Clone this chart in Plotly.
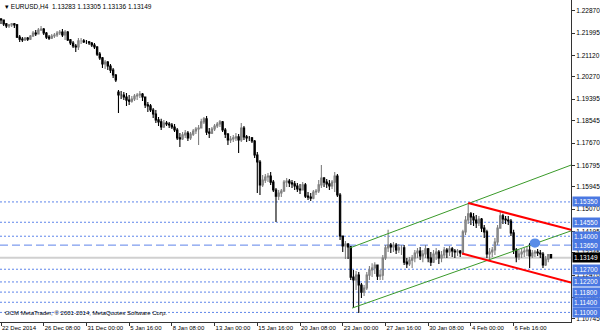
import plotly.graph_objects as go

# ---- data (EURUSD H4) ----
opens = [1.2255,1.2251,1.2236,1.2228,1.2232,1.2236,1.2232,1.2184,1.2176,1.2173,
1.2180,1.2176,1.2188,1.2200,1.2196,1.2212,1.2216,1.2200,1.2184,1.2180,
1.2188,1.2192,1.2200,1.2204,1.2192,1.2204,1.2173,1.2161,1.2149,1.2145,
1.2169,1.2169,1.2165,1.2165,1.2161,1.2153,1.2145,1.2117,1.2102,1.2078,
1.2086,1.2070,1.2054,1.2035,1.1968,1.1956,1.1956,1.1948,1.1936,1.1932,
1.1940,1.1952,1.1956,1.1960,1.1948,1.1917,1.1913,1.1897,1.1881,1.1858,
1.1850,1.1830,1.1846,1.1842,1.1838,1.1830,1.1818,1.1787,1.1783,1.1799,
1.1806,1.1787,1.1802,1.1814,1.1822,1.1826,1.1850,1.1862,1.1810,1.1806,
1.1822,1.1834,1.1842,1.1850,1.1818,1.1802,1.1779,1.1783,1.1787,1.1791,
1.1779,1.1826,1.1791,1.1787,1.1787,1.1775,1.1720,1.1692,1.1602,1.1621,
1.1633,1.1637,1.1613,1.1582,1.1558,1.1570,1.1578,1.1613,1.1617,1.1610,
1.1606,1.1598,1.1586,1.1582,1.1602,1.1558,1.1554,1.1550,1.1574,1.1578,
1.1602,1.1629,1.1613,1.1606,1.1598,1.1613,1.1637,1.1562,1.1401,1.1362,
1.1369,1.1358,1.1239,1.1228,1.1247,1.1208,1.1180,1.1196,1.1247,1.1267,
1.1275,1.1287,1.1243,1.1247,1.1314,1.1354,1.1365,1.1358,1.1365,1.1346,
1.1354,1.1354,1.1298,1.1291,1.1306,1.1314,1.1334,1.1342,1.1322,1.1330,
1.1350,1.1314,1.1298,1.1330,1.1338,1.1314,1.1326,1.1346,1.1338,1.1350,
1.1342,1.1338,1.1342,1.1334,1.1417,1.1464,1.1488,1.1476,1.1464,1.1452,
1.1468,1.1432,1.1417,1.1330,1.1338,1.1346,1.1377,1.1432,1.1480,1.1468,
1.1464,1.1460,1.1413,1.1346,1.1318,1.1330,1.1338,1.1342,1.1346,1.1322,
1.1334,1.1338,1.1334,1.1330,1.1287,1.1310,1.13283]

highs = [1.2259,1.2251,1.2239,1.2236,1.2239,1.2239,1.2236,1.2192,1.2184,1.2184,
1.2184,1.2192,1.2208,1.2212,1.2220,1.2228,1.2220,1.2204,1.2192,1.2196,
1.2200,1.2208,1.2212,1.2216,1.2212,1.2208,1.2176,1.2169,1.2157,1.2180,
1.2180,1.2176,1.2173,1.2169,1.2165,1.2161,1.2149,1.2125,1.2106,1.2094,
1.2090,1.2078,1.2062,1.2039,1.1976,1.1972,1.1968,1.1964,1.1956,1.1952,
1.1960,1.1964,1.1972,1.1964,1.1948,1.1928,1.1921,1.1905,1.1897,1.1869,
1.1862,1.1858,1.1854,1.1850,1.1846,1.1842,1.1826,1.1806,1.1810,1.1818,
1.1814,1.1810,1.1822,1.1830,1.1838,1.1862,1.1869,1.1873,1.1826,1.1830,
1.1842,1.1850,1.1858,1.1854,1.1826,1.1806,1.1795,1.1799,1.1806,1.1802,
1.1846,1.1834,1.1799,1.1795,1.1791,1.1779,1.1732,1.1700,1.1641,1.1645,
1.1649,1.1653,1.1621,1.1590,1.1582,1.1586,1.1621,1.1629,1.1625,1.1621,
1.1617,1.1610,1.1606,1.1613,1.1610,1.1574,1.1570,1.1582,1.1586,1.1621,
1.1680,1.1633,1.1625,1.1621,1.1621,1.1653,1.1645,1.1570,1.1401,1.1381,
1.1373,1.1362,1.1267,1.1263,1.1259,1.1216,1.1208,1.1259,1.1283,1.1294,
1.1298,1.1287,1.1267,1.1326,1.1365,1.1425,1.1373,1.1377,1.1373,1.1369,
1.1365,1.1365,1.1314,1.1318,1.1326,1.1346,1.1354,1.1358,1.1346,1.1365,
1.1354,1.1338,1.1346,1.1354,1.1346,1.1342,1.1358,1.1354,1.1362,1.1358,
1.1350,1.1350,1.1346,1.1425,1.1480,1.1531,1.1495,1.1491,1.1484,1.1480,
1.1472,1.1444,1.1425,1.1354,1.1358,1.1393,1.1444,1.1495,1.1488,1.1480,
1.1480,1.1468,1.1425,1.1354,1.1346,1.1350,1.1354,1.1362,1.1373,1.1346,
1.1346,1.1350,1.1346,1.1338,1.1322,1.1330,1.13305]

lows = [1.2236,1.2228,1.2220,1.2220,1.2224,1.2220,1.2180,1.2165,1.2165,1.2169,
1.2169,1.2173,1.2184,1.2188,1.2196,1.2208,1.2192,1.2176,1.2173,1.2176,
1.2180,1.2184,1.2192,1.2184,1.2173,1.2169,1.2153,1.2141,1.2125,1.2133,
1.2157,1.2161,1.2157,1.2153,1.2145,1.2137,1.2110,1.2094,1.2062,1.2058,
1.2054,1.2043,1.2023,1.2007,1.1885,1.1940,1.1936,1.1913,1.1917,1.1925,
1.1932,1.1936,1.1944,1.1932,1.1905,1.1889,1.1889,1.1865,1.1846,1.1834,
1.1818,1.1826,1.1834,1.1826,1.1822,1.1810,1.1779,1.1751,1.1779,1.1787,
1.1775,1.1779,1.1795,1.1802,1.1759,1.1826,1.1842,1.1799,1.1787,1.1802,
1.1814,1.1826,1.1830,1.1810,1.1787,1.1759,1.1767,1.1771,1.1775,1.1728,
1.1771,1.1779,1.1771,1.1775,1.1767,1.1708,1.1570,1.1562,1.1594,1.1610,
1.1613,1.1602,1.1574,1.1456,1.1543,1.1554,1.1574,1.1594,1.1594,1.1590,
1.1582,1.1574,1.1566,1.1582,1.1550,1.1543,1.1539,1.1546,1.1562,1.1570,
1.1590,1.1594,1.1590,1.1582,1.1586,1.1574,1.1554,1.1385,1.1338,1.1310,
1.1310,1.1228,1.1117,1.1188,1.1098,1.1157,1.1165,1.1188,1.1228,1.1239,
1.1251,1.1228,1.1228,1.1228,1.1306,1.1338,1.1334,1.1338,1.1330,1.1334,
1.1326,1.1287,1.1275,1.1283,1.1275,1.1298,1.1314,1.1306,1.1298,1.1314,
1.1298,1.1283,1.1295,1.1306,1.1291,1.1298,1.1314,1.1314,1.1322,1.1318,
1.1314,1.1322,1.1318,1.1326,1.1405,1.1448,1.1444,1.1440,1.1432,1.1440,
1.1417,1.1393,1.1314,1.1306,1.1318,1.1326,1.1365,1.1432,1.1448,1.1448,
1.1444,1.1401,1.1330,1.1298,1.1306,1.1314,1.1318,1.1322,1.1275,1.1314,
1.1318,1.1322,1.1314,1.1275,1.1283,1.1298,1.13136]

closes = [1.2251,1.2236,1.2228,1.2232,1.2236,1.2232,1.2184,1.2176,1.2173,1.2180,
1.2176,1.2188,1.2200,1.2196,1.2212,1.2216,1.2200,1.2184,1.2180,1.2188,
1.2192,1.2200,1.2204,1.2192,1.2204,1.2173,1.2161,1.2149,1.2145,1.2169,
1.2169,1.2165,1.2165,1.2161,1.2153,1.2145,1.2117,1.2102,1.2078,1.2086,
1.2070,1.2054,1.2035,1.2015,1.1956,1.1956,1.1948,1.1936,1.1932,1.1940,
1.1952,1.1956,1.1960,1.1948,1.1917,1.1913,1.1897,1.1881,1.1858,1.1850,
1.1830,1.1846,1.1842,1.1838,1.1830,1.1818,1.1787,1.1783,1.1799,1.1806,
1.1787,1.1802,1.1814,1.1822,1.1826,1.1850,1.1862,1.1810,1.1806,1.1822,
1.1834,1.1842,1.1850,1.1818,1.1802,1.1779,1.1783,1.1787,1.1791,1.1779,
1.1826,1.1791,1.1787,1.1787,1.1775,1.1720,1.1692,1.1602,1.1621,1.1633,
1.1637,1.1613,1.1582,1.1558,1.1570,1.1578,1.1613,1.1617,1.1610,1.1606,
1.1598,1.1586,1.1582,1.1602,1.1558,1.1554,1.1550,1.1574,1.1578,1.1602,
1.1629,1.1613,1.1606,1.1598,1.1613,1.1637,1.1562,1.1401,1.1362,1.1369,
1.1358,1.1239,1.1228,1.1247,1.1208,1.1180,1.1196,1.1247,1.1267,1.1275,
1.1287,1.1243,1.1247,1.1314,1.1354,1.1365,1.1358,1.1365,1.1346,1.1354,
1.1354,1.1298,1.1291,1.1306,1.1314,1.1334,1.1342,1.1322,1.1330,1.1350,
1.1314,1.1298,1.1330,1.1338,1.1314,1.1326,1.1346,1.1338,1.1350,1.1342,
1.1338,1.1342,1.1334,1.1417,1.1464,1.1488,1.1476,1.1464,1.1452,1.1468,
1.1432,1.1417,1.1330,1.1338,1.1346,1.1377,1.1432,1.1480,1.1468,1.1464,
1.1460,1.1413,1.1346,1.1318,1.1330,1.1338,1.1342,1.1346,1.1322,1.1334,
1.1338,1.1334,1.1330,1.1287,1.1310,1.13283,1.13149]

bars = list(range(len(closes)))

tick_bars = [0, 16, 32, 48, 64, 80, 96, 112, 128, 144, 160, 176, 192]
tick_labels = ["22 Dec 2014", "26 Dec 08:00", "31 Dec 00:00", "5 Jan 16:00",
               "8 Jan 08:00", "13 Jan 00:00", "15 Jan 16:00", "20 Jan 08:00",
               "23 Jan 00:00", "27 Jan 16:00", "30 Jan 08:00", "4 Feb 00:00",
               "6 Feb 16:00"]

price_ticks = [1.22870, 1.21995, 1.21120, 1.20270, 1.19395, 1.18545, 1.17670,
               1.16795, 1.15945, 1.15070, 1.14195, 1.13345, 1.12470, 1.11595,
               1.10745]

dotted_levels = [1.15350, 1.14550, 1.14000, 1.12700, 1.12200, 1.11800, 1.11400, 1.11000]
dashed_level = 1.13650

green_upper_bars = [130.7, 213.5]
green_upper_prices = [1.1354, 1.1680]
green_lower_bars = [131.5, 213.5]
green_lower_prices = [1.1117, 1.1421]
red_upper_bars = [175, 213.5]
red_upper_prices = [1.1531, 1.1425]
red_lower_bars = [172.7, 213.5]
red_lower_prices = [1.1332, 1.1218]
marker_bar, marker_price = 200, 1.1373

symbol = "EURUSD,H4"
copyright_text = "GCM MetaTrader, © 2001-2014, MetaQuotes Software Corp."

FONT = "Liberation Sans"
BLUE = "#4a78e2"
LINE_BLUE = "#5d84ea"

fig = go.Figure()

fig.add_trace(go.Candlestick(
    x=bars, open=opens, high=highs, low=lows, close=closes,
    increasing=dict(line=dict(color="#808080", width=1.1), fillcolor="#b0b0b0"),
    decreasing=dict(line=dict(color="#000000", width=1.1), fillcolor="#000000"),
    whiskerwidth=0, hoverinfo="skip",
))

for bx, py, col, w in [(green_upper_bars, green_upper_prices, "#3a9a2a", 1),
                       (green_lower_bars, green_lower_prices, "#3a9a2a", 1),
                       (red_upper_bars, red_upper_prices, "#ff0000", 2),
                       (red_lower_bars, red_lower_prices, "#ff0000", 2)]:
    fig.add_trace(go.Scatter(x=bx, y=py, mode="lines",
                             line=dict(color=col, width=w), hoverinfo="skip"))

shapes = []
for lv in dotted_levels:
    shapes.append(dict(type="line", xref="paper", x0=0, x1=1, yref="y", y0=lv, y1=lv,
                       line=dict(color=LINE_BLUE, width=1, dash="2px,2px"), layer="below"))
shapes.append(dict(type="line", xref="paper", x0=0, x1=1, yref="y",
                   y0=dashed_level, y1=dashed_level,
                   line=dict(color=LINE_BLUE, width=1, dash="8px,4px"), layer="below"))
shapes.append(dict(type="line", xref="paper", x0=0, x1=1, yref="y",
                   y0=closes[-1], y1=closes[-1],
                   line=dict(color="#d0d0d0", width=2), layer="below"))
shapes.append(dict(type="circle", xref="x", yref="y",
                   x0=marker_bar - 2, x1=marker_bar + 2,
                   y0=marker_price - 0.0018, y1=marker_price + 0.0018,
                   fillcolor="#5b8de8", line=dict(width=0)))

annotations = []
for lv in dotted_levels + [dashed_level]:
    annotations.append(dict(xref="paper", x=1, xanchor="left", xshift=1,
                            yref="y", y=lv, yanchor="middle",
                            text=f"{lv:.5f}", showarrow=False, bgcolor=BLUE,
                            font=dict(family=FONT, size=6.5, color="white"),
                            borderpad=1, width=26, align="left"))
annotations.append(dict(xref="paper", x=1, xanchor="left", xshift=1,
                        yref="y", y=closes[-1], yanchor="middle",
                        text=f"{closes[-1]:.5f}", showarrow=False, bgcolor="black",
                        font=dict(family=FONT, size=6.5, color="white"),
                        borderpad=1, width=26, align="left"))
annotations.append(dict(xref="paper", x=0, xanchor="left", xshift=3,
                        yref="paper", y=1, yanchor="top", yshift=-1,
                        text=f"▾ {symbol}  {opens[-1]:.5f} {highs[-1]:.5f} {lows[-1]:.5f} {closes[-1]:.5f}",
                        showarrow=False, font=dict(family=FONT, size=6.5, color="black")))
annotations.append(dict(xref="paper", x=0, xanchor="left", xshift=3,
                        yref="paper", y=0, yanchor="bottom", yshift=4,
                        text=copyright_text, showarrow=False,
                        font=dict(family=FONT, size=6, color="black")))

fig.update_layout(
    width=600, height=333,
    margin=dict(l=0, r=29, t=0, b=11),
    paper_bgcolor="white", plot_bgcolor="white",
    showlegend=False,
    shapes=shapes, annotations=annotations,
    xaxis=dict(range=[-0.375, 213.5], rangeslider=dict(visible=False),
               showgrid=False, zeroline=False, showline=True,
               linecolor="#333333", linewidth=1, automargin=False,
               tickmode="array", tickvals=tick_bars, ticktext=tick_labels,
               tickangle=0,
               ticks="outside", ticklen=3, tickcolor="#333333",
               ticklabelposition="outside right",
               tickfont=dict(family=FONT, size=6, color="black")),
    yaxis=dict(range=[1.10623, 1.2330], side="right", automargin=False,
               showgrid=False, zeroline=False, showline=True, mirror=True,
               linecolor="#333333", linewidth=1,
               tickmode="array", tickvals=price_ticks,
               ticktext=[f"{p:.5f}" for p in price_ticks],
               ticks="outside", ticklen=3, tickcolor="#333333",
               tickfont=dict(family=FONT, size=6.5, color="black")),
)

fig.write_html("out.html")
